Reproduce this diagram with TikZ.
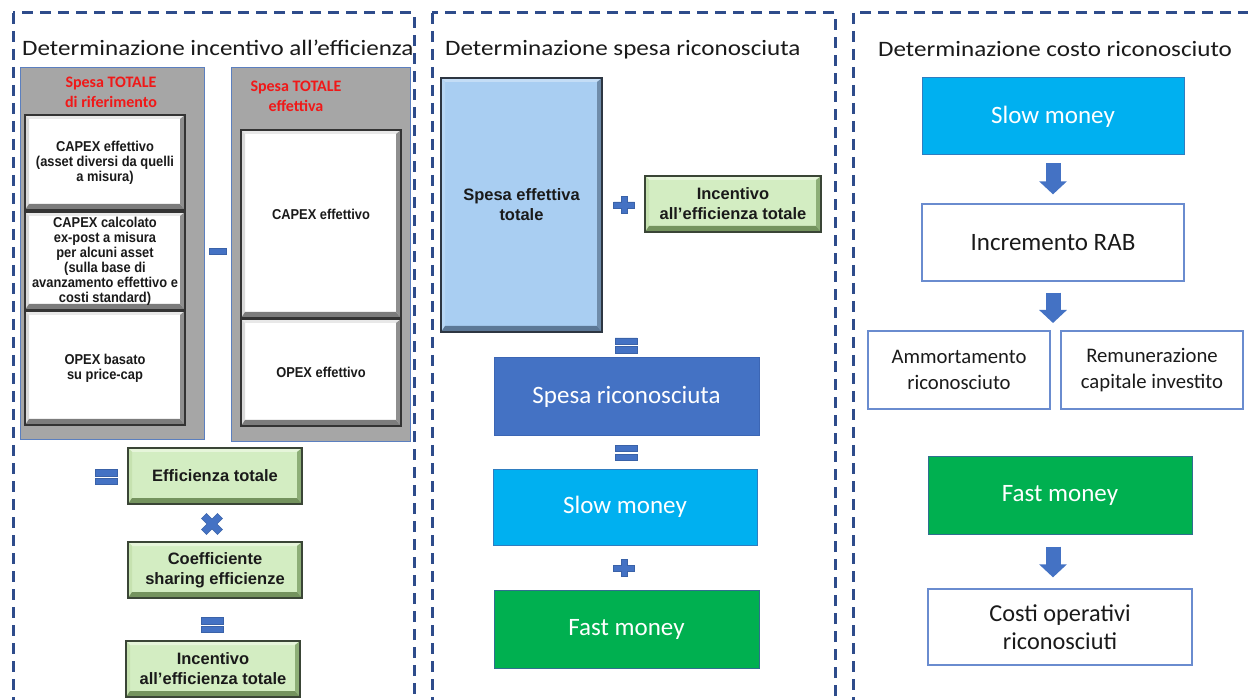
\documentclass[tikz,border=0pt]{standalone}
\usepackage{fontspec}
\setmainfont{Carlito}
\newfontfamily\headfont[FakeStretch=1.14]{Carlito}
\newfontfamily\condsans[FakeStretch=0.9]{Liberation Sans}
\newfontfamily\plainsans{Liberation Sans}
\usetikzlibrary{arrows.meta}

\definecolor{frameblue}{HTML}{2E4C8B}
\definecolor{inkblack}{HTML}{1A1A1A}
\definecolor{opblue}{HTML}{4472C4}
\definecolor{opedge}{HTML}{3A62A8}
\definecolor{panelgray}{HTML}{A6A6A6}
\definecolor{paneledge}{HTML}{5B7FBF}
\definecolor{headred}{HTML}{F01818}
% white bevel
\definecolor{wTop}{HTML}{E8E8E8}
\definecolor{wLeft}{HTML}{DADADA}
\definecolor{wRight}{HTML}{8F8F8F}
\definecolor{wBot}{HTML}{7C7C7C}
\definecolor{wEdge}{HTML}{333333}
% green bevel
\definecolor{gFace}{HTML}{D3EDC2}
\definecolor{gTop}{HTML}{E6F5DA}
\definecolor{gLeft}{HTML}{C6E2B0}
\definecolor{gRight}{HTML}{8DAE77}
\definecolor{gBot}{HTML}{74935E}
\definecolor{gEdge}{HTML}{3A4536}
% blue bevel
\definecolor{bFace}{HTML}{A9CEF2}
\definecolor{bTop}{HTML}{C4DDF6}
\definecolor{bLeft}{HTML}{B7D6F4}
\definecolor{bRight}{HTML}{6F8CAA}
\definecolor{bBot}{HTML}{5C7896}
\definecolor{bEdge}{HTML}{2D3642}
% flat boxes
\definecolor{ricFill}{HTML}{4472C4}
\definecolor{ricEdge}{HTML}{3C66B4}
\definecolor{slowFill}{HTML}{00B0F0}
\definecolor{slowEdge}{HTML}{2F7DC0}
\definecolor{fastFill}{HTML}{00B050}
\definecolor{fastEdge}{HTML}{2F6F8F}
\definecolor{outlineBlue}{HTML}{6A8CCF}

\tikzset{
  panel/.style={draw=frameblue, line width=3pt, dash pattern=on 11pt off 7pt},
  heading/.style={anchor=base west, inner sep=0pt, text=inkblack,
    font=\headfont\fontsize{22}{26}\selectfont},
  bevel/.style n args={6}{draw=#6, line width=1.3pt, fill=#1, inner sep=2pt,
    outer sep=0pt, align=center,
    path picture={
      \fill[#2] (path picture bounding box.north west) -- (path picture bounding box.north east)
        -- ([shift={(-5pt,-4pt)}]path picture bounding box.north east)
        -- ([shift={(4pt,-4pt)}]path picture bounding box.north west) -- cycle;
      \fill[#3] (path picture bounding box.north west)
        -- ([shift={(4pt,-4pt)}]path picture bounding box.north west)
        -- ([shift={(4pt,6pt)}]path picture bounding box.south west)
        -- (path picture bounding box.south west) -- cycle;
      \fill[#4] (path picture bounding box.north east) -- (path picture bounding box.south east)
        -- ([shift={(-5pt,6pt)}]path picture bounding box.south east)
        -- ([shift={(-5pt,-4pt)}]path picture bounding box.north east) -- cycle;
      \fill[#5] (path picture bounding box.south west)
        -- ([shift={(4pt,6pt)}]path picture bounding box.south west)
        -- ([shift={(-5pt,6pt)}]path picture bounding box.south east)
        -- (path picture bounding box.south east) -- cycle;
    }},
  whitebevel/.style={bevel={white}{wTop}{wLeft}{wRight}{wBot}{wEdge}, text=inkblack,
    font=\condsans\bfseries\fontsize{14.3}{15}\selectfont},
  greenbevel/.style={bevel={gFace}{gTop}{gLeft}{gRight}{gBot}{gEdge}, text=inkblack,
    font=\plainsans\bfseries\fontsize{16.5}{20}\selectfont},
  bluebevel/.style={bevel={bFace}{bTop}{bLeft}{bRight}{bBot}{bEdge}, text=inkblack,
    font=\plainsans\bfseries\fontsize{16.5}{20}\selectfont},
  graypanel/.style={fill=panelgray, draw=paneledge, line width=1pt, inner sep=0pt},
  redhead/.style={text=headred, align=center, inner sep=0pt,
    font=\bfseries\fontsize{16}{20}\selectfont},
  flatbox/.style={line width=1pt, inner sep=2pt, align=center, text=white,
    font=\fontsize{25}{28}\selectfont},
  outlinebox/.style={fill=white, draw=outlineBlue, line width=1.3pt, inner sep=2pt,
    align=center, text=inkblack},
  opshape/.style={fill=opblue, draw=opedge, line width=0.6pt},
  blockarrow/.style={draw=opblue, line width=15pt, line cap=butt,
    -{Triangle[width=27pt,length=13pt]}},
  eqsign/.pic={\path[opshape] (-11,-7.5) rectangle (11,-1.2) (-11,1.2) rectangle (11,7.5);},
  minussign/.pic={\path[opshape] (-8.5,-3) rectangle (8.5,3);},
  plussign/.pic={\path[opshape] (-3,-8.5) -- (3,-8.5) -- (3,-3) -- (10.5,-3) -- (10.5,3)
    -- (3,3) -- (3,8.5) -- (-3,8.5) -- (-3,3) -- (-10.5,3) -- (-10.5,-3) -- (-3,-3) -- cycle;},
  timessign/.pic={\path[opshape, rotate=45] (-3.5,-11.3) -- (3.5,-11.3) -- (3.5,-3.5)
    -- (11.3,-3.5) -- (11.3,3.5) -- (3.5,3.5) -- (3.5,11.3) -- (-3.5,11.3) -- (-3.5,3.5)
    -- (-11.3,3.5) -- (-11.3,-3.5) -- (-3.5,-3.5) -- cycle;},
}

\begin{document}
\begin{tikzpicture}[x=1pt, y=-1pt]
\useasboundingbox (0,0) rectangle (1248,700);
\clip (0,0) rectangle (1248,700);
\fill[white] (0,0) rectangle (1248,700);

% ---------- dashed frames and headings ----------
\draw[panel] (13,13) rectangle (414,720);
\draw[panel] (432,13) rectangle (835,720);
\draw[panel] (853,13) rectangle (1262,720);

\node[heading] (headA) at (22,56) {Determinazione incentivo all’efficienza};
\node[heading] (headB) at (445,56) {Determinazione spesa riconosciuta};
\node[heading] (headC) at (878,57) {Determinazione costo riconosciuto};

% ---------- efficiency incentive ----------
\node[graypanel, minimum width=184pt, minimum height=372pt] (refbox) at (112,254) {};
\node[graypanel, minimum width=179pt, minimum height=374pt] (actbox) at (320.5,255) {};
\node[redhead] (reftitle) at (111,92) {Spesa TOTALE\\di riferimento};
\node[redhead] (acttitle) at (296,96) {Spesa TOTALE\\effettiva};

\node[whitebevel, minimum width=160pt, minimum height=95pt] (capexA) at (105,162.5)
  {CAPEX effettivo\\(asset diversi da quelli\\a misura)};
\node[whitebevel, minimum width=160pt, minimum height=98pt] (capexB) at (105,261)
  {CAPEX calcolato\\ex-post a misura\\per alcuni asset\\(sulla base di\\avanzamento effettivo e\\costi standard)};
\node[whitebevel, minimum width=160pt, minimum height=114pt] (opexA) at (105,368)
  {OPEX basato\\su price-cap};
\node[whitebevel, minimum width=160pt, minimum height=188pt, text depth=20pt] (capexC) at (321,224)
  {CAPEX effettivo};
\node[whitebevel, minimum width=160pt, minimum height=107pt] (opexB) at (321,372.5)
  {OPEX effettivo};

\pic (minusA) at (217.5,251) {minussign};

\node[greenbevel, minimum width=174pt, minimum height=56pt] (eff) at (215,476) {Efficienza totale};
\pic (eqA) at (106,477) {eqsign};
\pic (timesA) at (212,524) {timessign};
\node[greenbevel, minimum width=174pt, minimum height=56pt] (coef) at (215,570)
  {Coefficiente\\sharing efficienze};
\pic (eqB) at (212.5,625) {eqsign};
\node[greenbevel, minimum width=174pt, minimum height=56pt] (incA) at (213,669)
  {Incentivo\\all’efficienza totale};

% ---------- recognised expenditure ----------
\node[bluebevel, minimum width=161pt, minimum height=254pt] (spesa) at (521.5,205)
  {Spesa effettiva\\totale};
\pic (plusA) at (624,205) {plussign};
\node[greenbevel, minimum width=176pt, minimum height=56pt] (incB) at (733,204)
  {Incentivo\\all’efficienza totale};
\pic (eqC) at (626,345.5) {eqsign};
\node[flatbox, fill=ricFill, draw=ricEdge, minimum width=265pt, minimum height=78pt] (ric)
  at (626.5,397) {Spesa riconosciuta};
\pic (eqD) at (626,453) {eqsign};
\node[flatbox, fill=slowFill, draw=slowEdge, minimum width=264pt, minimum height=76pt] (slowB)
  at (625,507) {Slow money};
\pic (plusB) at (624,568) {plussign};
\node[flatbox, fill=fastFill, draw=fastEdge, minimum width=265pt, minimum height=78pt] (fastB)
  at (626.5,629) {Fast money};

% ---------- recognised cost ----------
\node[flatbox, fill=slowFill, draw=slowEdge, minimum width=262pt, minimum height=77pt] (slowC)
  at (1053,116.5) {Slow money};
\node[outlinebox, minimum width=262pt, minimum height=77pt, font=\fontsize{25}{28}\selectfont] (incr)
  at (1053,242.5) {Incremento RAB};
\node[outlinebox, minimum width=182pt, minimum height=78pt, font=\fontsize{20.7}{26}\selectfont] (amm)
  at (959,370) {Ammortamento\\riconosciuto};
\node[outlinebox, minimum width=182pt, minimum height=78pt, font=\fontsize{20.7}{26}\selectfont] (rem)
  at (1152,370) {Remunerazione\\capitale investito};
\node[flatbox, fill=fastFill, draw=fastEdge, minimum width=264pt, minimum height=77pt] (fastC)
  at (1060,495.5) {Fast money};
\node[outlinebox, minimum width=264pt, minimum height=76pt, font=\fontsize{24.3}{28}\selectfont] (costi)
  at (1060,627) {Costi operativi\\riconosciuti};

\coordinate (split) at (1053,323);
\draw[blockarrow] ([yshift=-8pt]slowC.south) -- ([yshift=9pt]incr.north);
\draw[blockarrow] ([yshift=-11pt]incr.south) -- (split);
\draw[blockarrow] ([xshift=-7pt,yshift=-12pt]fastC.south) -- ([xshift=-7pt,yshift=11pt]costi.north);
\end{tikzpicture}
\end{document}
